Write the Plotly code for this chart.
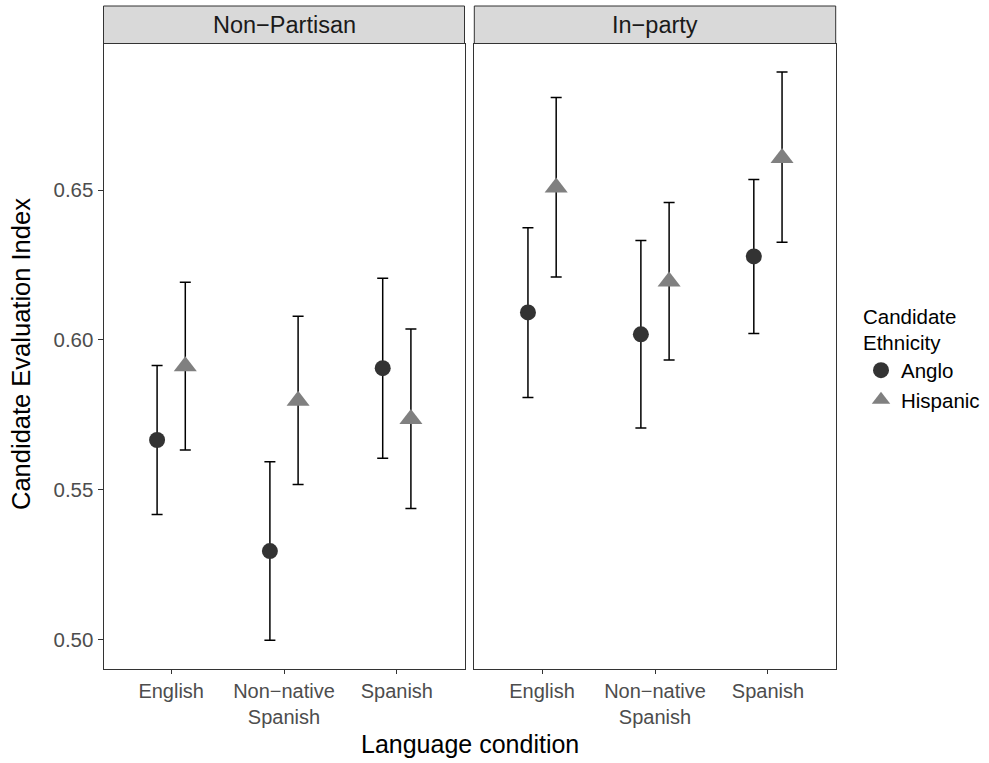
import plotly.graph_objects as go

# ---- data ----
conditions = ["English", "Non\u2212native<br>Spanish", "Spanish"]
panels = ["Non\u2212Partisan", "In\u2212party"]

anglo_np = [0.5666, 0.5295, 0.5906]
anglo_np_lo = [0.5417, 0.4997, 0.5605]
anglo_np_hi = [0.5915, 0.5593, 0.6206]

hisp_np = [0.5912, 0.5797, 0.5736]
hisp_np_lo = [0.5633, 0.5517, 0.5437]
hisp_np_hi = [0.6193, 0.6079, 0.6037]

anglo_ip = [0.6092, 0.6019, 0.6279]
anglo_ip_lo = [0.5808, 0.5706, 0.6022]
anglo_ip_hi = [0.6375, 0.6332, 0.6536]

hisp_ip = [0.6509, 0.6195, 0.6608]
hisp_ip_lo = [0.6210, 0.5933, 0.6326]
hisp_ip_hi = [0.6810, 0.6459, 0.6895]

y_ticks = [0.50, 0.55, 0.60, 0.65]
y_ticktext = ["0.50", "0.55", "0.60", "0.65"]

# ---- styling ----
W, H = 989, 763
FONT = "Liberation Sans, Arial, sans-serif"
DODGE = 0.125
COL_ANGLO = "#333333"
COL_HISP = "#808080"

def px_x(p):
    return p / W

def px_y(p):
    return 1 - p / H

panel_top, panel_bot = 43.5, 668.5
strip_top = 6.0
dom_left = [px_x(103.5), px_x(464.5)]
dom_right = [px_x(474.3), px_x(835.7)]
ydom = [px_y(panel_bot), px_y(panel_top)]

fig = go.Figure()

series = [
    ("Anglo", "circle", 16, COL_ANGLO, -DODGE,
     [(anglo_np, anglo_np_lo, anglo_np_hi), (anglo_ip, anglo_ip_lo, anglo_ip_hi)]),
    ("Hispanic", "triangle-up", 20, COL_HISP, DODGE,
     [(hisp_np, hisp_np_lo, hisp_np_hi), (hisp_ip, hisp_ip_lo, hisp_ip_hi)]),
]

for name, sym, size, col, off, data in series:
    for k, (vals, lo, hi) in enumerate(data):
        xs = [i + 1 + off for i in range(len(conditions))]
        fig.add_trace(go.Scatter(
            x=xs, y=vals, mode="markers", name=name,
            legendgroup=name, showlegend=(k == 0),
            xaxis="x" if k == 0 else "x2", yaxis="y" if k == 0 else "y2",
            marker=dict(symbol=sym, size=size, color=col, line=dict(width=0)),
            error_y=dict(type="data", symmetric=False,
                         array=[h - v for h, v in zip(hi, vals)],
                         arrayminus=[v - l for v, l in zip(vals, lo)],
                         color="black", thickness=1.5, width=5.5),
        ))

tickfont = dict(family=FONT, size=20, color="#4D4D4D")
xcommon = dict(range=[0.4, 3.6], tickvals=[1, 2, 3], ticktext=conditions,
               showline=True, linecolor="#333333", linewidth=1, mirror=True,
               ticks="outside", ticklen=4, tickcolor="#333333", tickwidth=1,
               showgrid=False, zeroline=False, tickfont=tickfont)
ycommon = dict(range=[0.4903, 0.6990], domain=ydom,
               showline=True, linecolor="#333333", linewidth=1, mirror=True,
               showgrid=False, zeroline=False, tickvals=y_ticks, ticktext=y_ticktext)

fig.update_layout(
    width=W, height=H, autosize=False,
    margin=dict(l=0, r=0, t=0, b=0),
    paper_bgcolor="white", plot_bgcolor="white",
    font=dict(family=FONT, color="black"),
    xaxis=dict(domain=dom_left, anchor="y", **xcommon),
    xaxis2=dict(domain=dom_right, anchor="y2", **xcommon),
    yaxis=dict(anchor="x", ticks="outside", ticklen=5, tickcolor="#333333",
               tickfont=dict(family=FONT, size=20.5, color="#4D4D4D"), **ycommon),
    yaxis2=dict(anchor="x2", ticks="", showticklabels=False, **ycommon),
    legend=dict(x=px_x(861), y=px_y(297), xanchor="left", yanchor="top",
                title=dict(text="Candidate<br>Ethnicity",
                           font=dict(family=FONT, size=20.5, color="black")),
                font=dict(family=FONT, size=20.5, color="black"),
                bgcolor="rgba(0,0,0,0)", tracegroupgap=0),
    showlegend=True,
)

# strips
for dom, label in zip([dom_left, dom_right], panels):
    fig.add_shape(type="rect", xref="paper", yref="paper",
                  x0=dom[0], x1=dom[1], y0=px_y(panel_top), y1=px_y(strip_top),
                  fillcolor="#D9D9D9", line=dict(color="#333333", width=1), layer="below")
    fig.add_annotation(xref="paper", yref="paper", x=(dom[0] + dom[1]) / 2,
                       y=px_y((panel_top + strip_top) / 2), text=label, showarrow=False,
                       font=dict(family=FONT, size=23.5, color="#1A1A1A"),
                       xanchor="center", yanchor="middle")

# axis titles
fig.add_annotation(xref="paper", yref="paper", x=px_x(469.5), y=px_y(744),
                   text="Language condition", showarrow=False,
                   font=dict(family=FONT, size=25, color="black"),
                   xanchor="center", yanchor="middle")
fig.add_annotation(xref="paper", yref="paper", x=px_x(21), y=px_y(354),
                   text="Candidate Evaluation Index", showarrow=False, textangle=-90,
                   font=dict(family=FONT, size=25.5, color="black"),
                   xanchor="center", yanchor="middle")

fig.write_html("out.html", config={"displayModeBar": False},
               post_script="document.body.style.margin='0px';document.documentElement.style.margin='0px';")
